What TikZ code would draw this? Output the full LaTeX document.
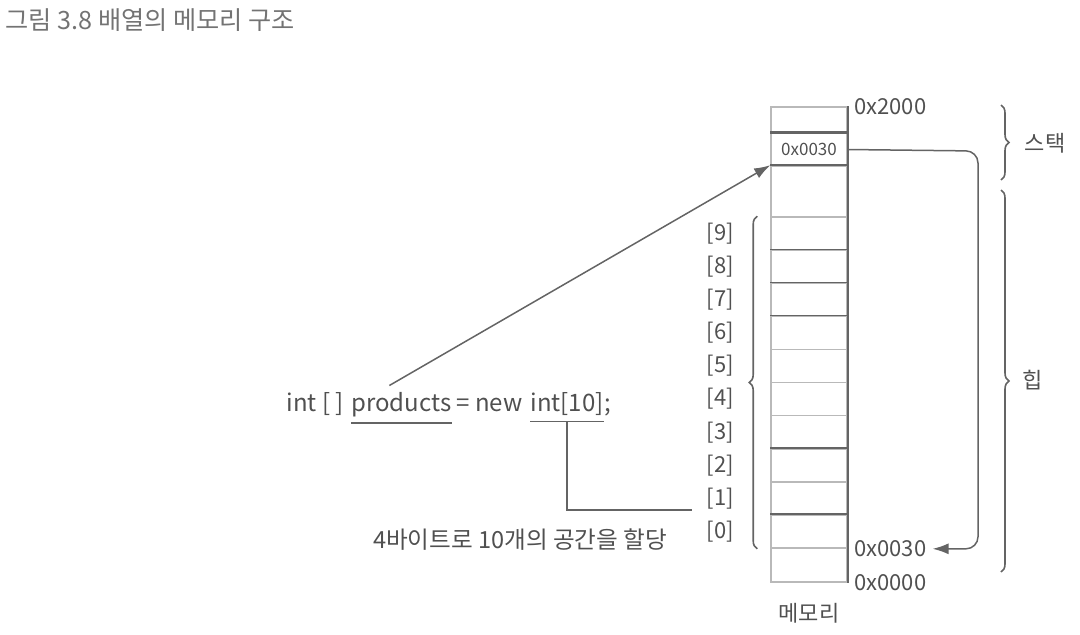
\documentclass[tikz,border=0pt]{standalone}
\usepackage{fontspec}
\setmainfont{Noto Sans CJK KR}
\usetikzlibrary{decorations.pathreplacing, arrows.meta, positioning}
\definecolor{inkgray}{RGB}{80,80,80}
\definecolor{linegray}{RGB}{100,100,100}
\definecolor{softgray}{RGB}{185,185,185}
\tikzset{
  cell/.style={
    rectangle, draw=softgray, line width=0.8pt, minimum width=38pt, inner sep=0pt,
    font=\fontsize{8.5}{10}\selectfont, text=inkgray
  },
  addr/.style={
    anchor=west, inner sep=3pt, font=\fontsize{11}{13}\selectfont, text=inkgray
  },
  idx/.style={
    anchor=east, inner sep=0pt, font=\fontsize{11}{13}\selectfont, text=inkgray
  },
  code/.style={
    anchor=base west, inner xsep=0pt, inner ysep=3pt,
    font=\fontsize{12}{14}\selectfont, text=inkgray
  },
  note/.style={
    inner sep=2pt, font=\fontsize{11}{13}\selectfont, text=inkgray
  },
  curly/.style={
    decorate, decoration={brace, amplitude=4pt}, line width=0.8pt, draw=linegray
  },
  guide/.style={
    line width=0.75pt, draw=linegray
  },
  arrow/.style={
    -{Latex[length=8pt,width=5.5pt]}, line width=0.75pt, draw=linegray
  }
}

\begin{document}
\begin{tikzpicture}[x=0.5pt, y=-0.5pt]
    \useasboundingbox (0,0) rectangle (1080,634);

    % Title
    \node[anchor=west, inner sep=0pt, font=\fontsize{12.6}{14}\selectfont, text=gray!90!black] (title)
      at (5,20) {그림 3.8 배열의 메모리 구조};

    % Memory column
    \node[cell, minimum height=13pt] (top) at (809,120) {};
    \node[cell, minimum height=16.5pt] (ptr) at (809,149.5) {0x0030};
    \node[cell, minimum height=25.5pt] (gap) at (809,191.5) {};
    \foreach \i in {0,...,9}
      \node[cell, minimum height=16.55pt] (a\i) at (809,{548-33.1*(\i+0.5)}) {};
    \node[cell, minimum height=17pt] (bot) at (809,565) {};

    % darker edges
    \draw[guide] (top.north east) -- (bot.south east);
    \draw[line width=1.3pt, linegray] (ptr.north west) -- (ptr.north east);
    \draw[guide] (gap.north west) -- (gap.north east);
    \foreach \i in {8,7,6,2,0}
      \draw[guide] (a\i.north west) -- (a\i.north east);

    % Addresses
    \node[addr] (hi) at (top.north east) {0x2000};
    \node[addr] (haddr) at (a0.south east) {0x0030};
    \node[addr] (lo) at (bot.south east) {0x0000};
    \node[note, below=8pt of bot] (mem) {메모리};

    % Array indices
    \foreach \i in {0,...,9}
      \node[idx] (i\i) at ([xshift=-18pt]a\i.west) {[\i]};
    \draw[curly] ([xshift=-6.5pt]a0.south west) -- ([xshift=-6.5pt]a9.north west);

    % Stack / heap
    \draw[curly] (1001,105) -- (1001,180);
    \node[note] (stack) at (1045,143) {스택};
    \draw[curly] (1001,190) -- (1001,572);
    \node[note] (heap) at (1033,380) {힙};

    % Reference from stack into heap
    \coordinate (turn) at (978,151);
    \draw[arrow, rounded corners=6pt] (ptr.east) -- (turn) |- (haddr.east);

    % Code line
    \node[code] (kw) at (286,411) {int [ ]};
    \node[code] (prod) at (351,411) {products};
    \node[code] (eq) at (456,411) {= new};
    \node[code] (arr) at (530,411) {int[10]};
    \node[code] (semi) at (arr.base east) {;};
    \draw[guide] (prod.south west) -- (prod.south east);
    \draw[guide] (arr.south west) -- (arr.south east);
    \draw[arrow] ([xshift=-6pt]prod.north) -- (gap.north west);

    % Allocation note
    \coordinate (allocend) at (692,510);
    \draw[guide] (arr.south) |- (allocend);
    \node[note, font=\fontsize{11.8}{14}\selectfont] (alloc) at (520,540) {4바이트로 10개의 공간을 할당};
\end{tikzpicture}
\end{document}
